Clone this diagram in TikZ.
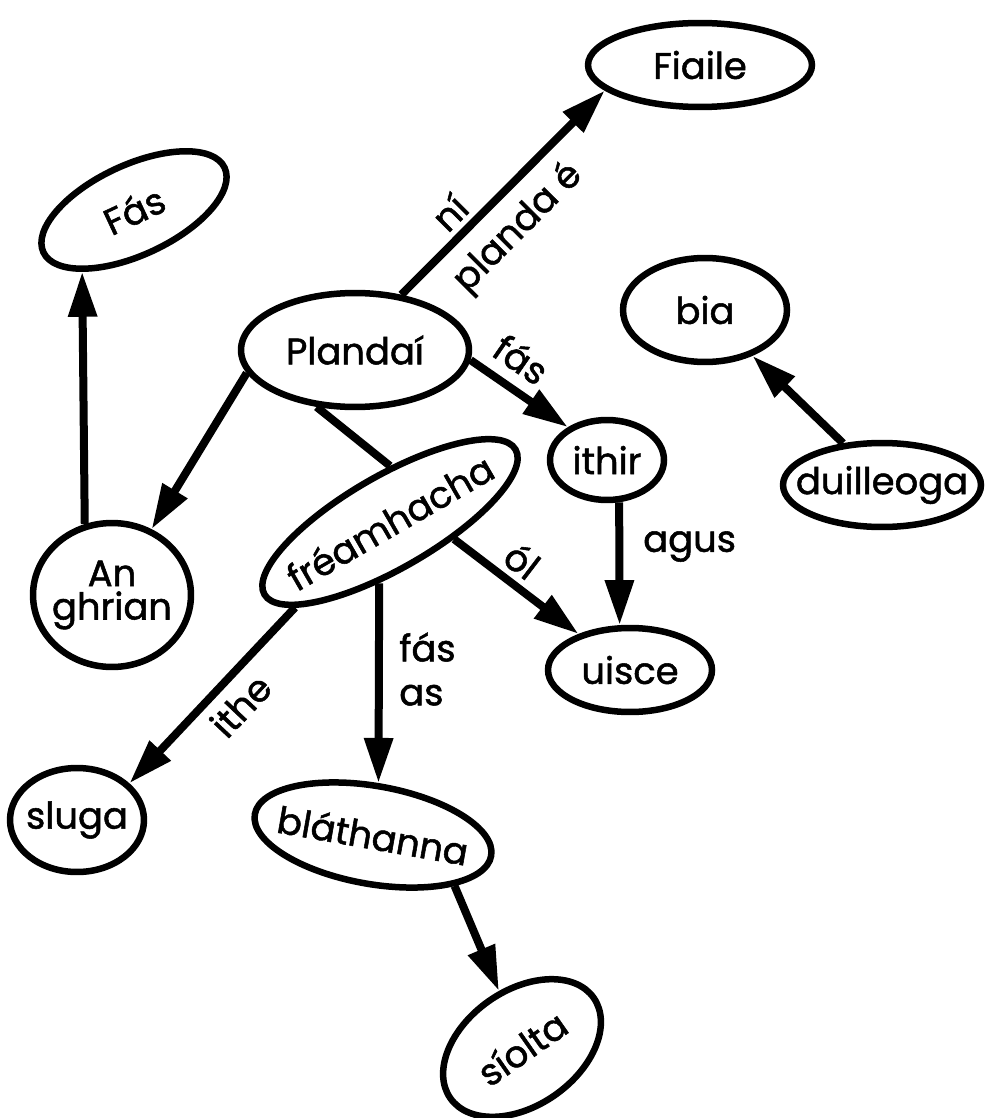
\documentclass[tikz,border=0pt]{standalone}
\usepackage{fontspec}
\setmainfont{Poppins}[FakeBold=1.4]
\usetikzlibrary{shapes,arrows.meta,positioning}

\begin{document}
\begin{tikzpicture}[x=0.02cm,y=-0.02cm,
          idea/.style={draw,ellipse,line width=0.13cm,inner xsep=-16pt,inner ysep=-6pt,
                       font=\fontsize{21}{23}\selectfont,align=center},
          link/.style={-{Triangle[length=0.9cm,width=0.55cm]},line width=0.16cm,
                       font=\fontsize{21}{23}\selectfont},
          bare/.style={line width=0.16cm}
        ]
        \fill[white] (0,0) rectangle (1004,1118);
        \useasboundingbox (0,0) rectangle (1004,1118);
        \node[idea,minimum width=4.48cm,minimum height=1.68cm] (fiaile) at (700,65) {Fiaile};
        \node[idea,minimum width=4.0cm,minimum height=1.8cm,rotate=25] (fas) at (134,210) {Fás};
        \node[idea,minimum width=4.56cm,minimum height=2.28cm] (plandai) at (355,350) {Plandaí};
        \node[idea,minimum width=3.28cm,minimum height=2.08cm] (bia) at (705,310) {bia};
        \node[idea,minimum width=2.28cm,minimum height=1.6cm] (ithir) at (607,460) {ithir};
        \node[idea,minimum width=3.96cm,minimum height=1.68cm] (duilleoga) at (882,485) {duilleoga};
        \node[idea,minimum width=5.8cm,minimum height=1.85cm,rotate=30] (freamh) at (390,522) {fréamhacha};
        \node[idea,minimum width=3.16cm,minimum height=2.88cm] (ghrian) at (112,595) {An\\[-4pt]ghrian};
        \node[idea,minimum width=3.28cm,minimum height=1.68cm] (uisce) at (630,670) {uisce};
        \node[idea,minimum width=2.68cm,minimum height=2.08cm] (sluga) at (77,820) {sluga};
        \node[idea,minimum width=4.8cm,minimum height=1.96cm,rotate=-10] (blath) at (373,835) {bláthanna};
        \node[idea,minimum width=3.5cm,minimum height=2.3cm,rotate=35] (siolta) at (522,1048) {síolta};
        \draw[link] (plandai.50) -- node[pos=0.32,above,sloped]{ní}
                                    node[pos=0.45,below=4pt,sloped]{planda é} (fiaile.195);
        \draw[link] (plandai.355) -- node[pos=0.35,above=3pt,sloped]{fás} (ithir.140);
        \draw[link] (plandai.192) -- (ghrian.59);
        \draw[bare] (plandai.236) -- (freamh.60);
        \draw[link] (ghrian.111) -- (fas.205);
        \draw[link] (duilleoga.133) -- (bia.316);
        \draw[link] (ithir.286) -- node[pos=0.36,right=8pt]{agus} (uisce.103);
        \draw[link] (freamh.315) -- node[pos=0.43,above,sloped]{ól} (uisce.145);
        \draw[link] (freamh.230) -- node[pos=0.43,right=6pt,align=left]{fás\\[2pt]as} (blath.94);
        \draw[link] (freamh.192) -- node[pos=0.45,below=2pt,sloped]{ithe} (sluga.35);
        \draw[link] (blath.338) -- (siolta.77);
      \end{tikzpicture}
\end{document}
